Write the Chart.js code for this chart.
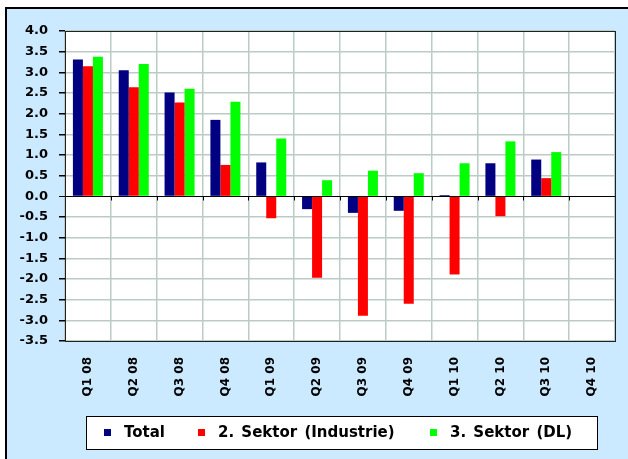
<!DOCTYPE html>
<html>
<head>
<meta charset="utf-8">
<script src="https://cdn.jsdelivr.net/npm/chart.js@4/dist/chart.umd.min.js"></script>
<style>
  html, body { margin: 0; padding: 0; background: #fff; }
  canvas { display: block; }
</style>
</head>
<body>
<canvas id="chart" width="628" height="459"></canvas>
<script>
// Wachstum nach Sektoren, Quartale 2008-2010
const quarters = ['Q1 08', 'Q2 08', 'Q3 08', 'Q4 08', 'Q1 09', 'Q2 09', 'Q3 09', 'Q4 09', 'Q1 10', 'Q2 10', 'Q3 10', 'Q4 10']
const total = [3.31, 3.05, 2.51, 1.85, 0.82, -0.31, -0.40, -0.35, 0.03, 0.80, 0.89, null]
const industrie = [3.15, 2.64, 2.27, 0.76, -0.53, -1.97, -2.89, -2.60, -1.89, -0.48, 0.44, null]
const dienstleistung = [3.38, 3.20, 2.60, 2.29, 1.40, 0.39, 0.62, 0.56, 0.80, 1.33, 1.07, null]
const seriesLabels = ['Total', '2. Sektor (Industrie)', '3. Sektor (DL)']
const seriesColors = ['#000080', '#ff0000', '#00ff00']
const yMin = -3.5
const yMax = 4.0
const yStep = 0.5

const gridColor = '#bccbc6'
const xFont = { family: 'DejaVu Sans', weight: 'bold', size: 12 }
const yFont = { family: 'DejaVu Sans', weight: 'bold', size: 13 }

// light blue frame behind everything, white plot area
const framePlugin = {
  id: 'frame',
  beforeDraw(chart) {
    const ctx = chart.ctx
    const a = chart.chartArea
    ctx.save()
    ctx.fillStyle = '#ffffff'
    ctx.fillRect(0, 0, chart.width, chart.height)
    ctx.fillStyle = '#000000'
    ctx.fillRect(5, 7, chart.width - 5, chart.height - 7)
    ctx.fillStyle = '#cceaff'
    ctx.fillRect(7, 9, chart.width - 7, chart.height - 9)
    ctx.fillStyle = '#ffffff'
    ctx.fillRect(a.left, a.top, a.right - a.left, a.bottom - a.top)
    ctx.restore()
  },
}

// zero line on top of bars, small category ticks, plot border
const axisExtras = {
  id: 'axisExtras',
  afterDatasetsDraw(chart) {
    const { ctx, chartArea: a, scales } = chart
    const y0 = Math.round(scales.y.getPixelForValue(0)) + 0.5
    const step = (a.right - a.left) / quarters.length
    ctx.save()
    ctx.strokeStyle = '#000'
    ctx.lineWidth = 1
    ctx.beginPath()
    ctx.moveTo(a.left, y0)
    ctx.lineTo(a.right, y0)
    for (let i = 0; i <= quarters.length; i++) {
      const x = Math.round(a.left + i * step) + 0.5
      ctx.moveTo(x, y0)
      ctx.lineTo(x, y0 + 4)
    }
    ctx.stroke()
    ctx.strokeStyle = '#222'
    ctx.strokeRect(Math.round(a.left) + 0.5, Math.round(a.top) + 0.5, Math.round(a.right - a.left), Math.round(a.bottom - a.top))
    ctx.restore()
  },
}

// boxed legend below the axis labels
const boxLegend = {
  id: 'boxLegend',
  afterDraw(chart) {
    const ctx = chart.ctx
    const markers = [104, 198, 430]
    ctx.save()
    ctx.fillStyle = '#fff'
    ctx.fillRect(86, 416, 512, 34)
    ctx.strokeStyle = '#000'
    ctx.lineWidth = 1
    ctx.strokeRect(86.5, 416.5, 511, 33)
    ctx.font = 'bold 15px "DejaVu Sans"'
    ctx.textBaseline = 'middle'
    ctx.wordSpacing = '2px'
    chart.data.datasets.forEach((ds, i) => {
      ctx.fillStyle = ds.backgroundColor
      ctx.fillRect(markers[i], 429, 7, 7)
      ctx.fillStyle = '#000'
      ctx.fillText(ds.label, markers[i] + 20, 433)
    })
    ctx.restore()
  },
}

new Chart(document.getElementById('chart'), {
  type: 'bar',
  data: {
    labels: quarters,
    datasets: [
      { label: seriesLabels[0], data: total, backgroundColor: seriesColors[0] },
      { label: seriesLabels[1], data: industrie, backgroundColor: seriesColors[1] },
      { label: seriesLabels[2], data: dienstleistung, backgroundColor: seriesColors[2] },
    ],
  },
  options: {
    responsive: false,
    animation: false,
    layout: { padding: { left: 0, top: 31, right: 13, bottom: 0 } },
    datasets: {
      bar: { categoryPercentage: 0.655, barPercentage: 1.0, borderWidth: 0 },
    },
    plugins: {
      legend: { display: false },
      tooltip: { enabled: false },
    },
    scales: {
      x: {
        grid: { color: gridColor, lineWidth: 1.5, drawTicks: false, offset: true },
        border: { color: '#222', width: 1 },
        ticks: {
          autoSkip: false,
          minRotation: 90,
          maxRotation: 90,
          padding: 16,
          color: '#000',
          font: xFont,
        },
        afterFit(scale) {
          scale.height = 118
        },
      },
      y: {
        min: yMin,
        max: yMax,
        grid: {
          color: (c) => (c.tick && c.tick.value === 0 ? '#000' : gridColor),
          lineWidth: (c) => (c.tick && c.tick.value === 0 ? 1 : 1.5),
          tickLength: 6,
          tickColor: '#000',
        },
        border: { color: '#000', width: 1 },
        ticks: {
          stepSize: yStep,
          padding: 11,
          color: '#000',
          font: yFont,
          callback: function (value) {
            return value.toFixed(1)
          },
        },
        afterFit(scale) {
          scale.width = 65
        },
      },
    },
  },
  plugins: [framePlugin, axisExtras, boxLegend],
})
</script>
</body>
</html>
